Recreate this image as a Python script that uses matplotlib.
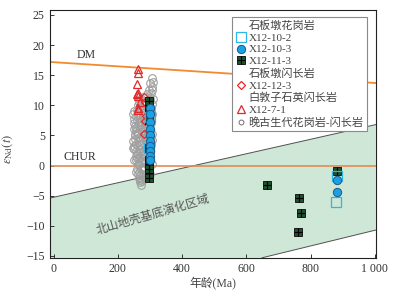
import matplotlib
matplotlib.use("Agg")
import matplotlib.pyplot as plt
from matplotlib.lines import Line2D

plt.rcParams['font.family'] = ['Liberation Serif', 'Noto Sans CJK SC']
plt.rcParams['mathtext.fontset'] = 'stix'
plt.rcParams['axes.unicode_minus'] = True

# ---------------- data ----------------
xticks = [0, 200, 400, 600, 800, 1000]
xticklabels = ['0', '200', '400', '600', '800', '1 000']
yticks = [-15, -10, -5, 0, 5, 10, 15, 20, 25]

# reference lines (Ma, eps)
dm_age = [-12, 1003]
dm_eps = [17.2, 13.7]
chur_eps = 0.0
# Beishan basement evolution region boundaries
zone_upper_age = [-12, 1003]
zone_upper_eps = [-5.4, 6.8]
zone_lower_age = [649, 1003]
zone_lower_eps = [-15.3, -10.7]

# X12-10-2 (open cyan squares)
s1_age = [300, 298, 881, 879]
s1_eps = [8.0, 3.0, -1.7, -6.1]
# X12-10-3 (blue circles)
s2_age = [299, 299, 299, 299, 299, 299, 299, 299, 299, 299, 882, 882]
s2_eps = [9.6, 8.5, 7.2, 6.0, 5.0, 4.0, 3.2, 2.5, 1.6, 0.9, -2.4, -4.4]
# X12-11-3 (dark green gridded squares)
s3_age = [296, 296, 296, 296, 296, 296, 296, 296, 296, 296, 664, 764, 770, 761, 881]
s3_eps = [10.7, 10.0, 9.2, 7.6, 3.0, 0.9, 0.2, -0.6, -1.3, -2.0, -3.2, -5.3, -7.9, -11.1, -0.9]
# X12-12-3 (red open diamonds)
s4_age = [281, 284, 288, 286, 281]
s4_eps = [11.3, 10.6, 8.3, 7.4, 5.2]
# X12-7-1 (red open triangles)
s5_age = [262, 262, 260, 263, 260, 264, 262, 262, 270]
s5_eps = [16.0, 15.3, 13.6, 12.1, 11.8, 11.5, 9.6, 9.2, 10.5]
# Late Paleozoic granite-diorite (gray open circles)
g_age = [305, 300, 308, 296, 303, 290,
         270, 283, 295, 305, 262, 278, 300,
         265, 272, 280, 288, 298, 306, 258, 268,
         260, 266, 272, 277, 284, 292, 303, 256, 270,
         258, 262, 268, 274, 280, 290, 300, 306, 255, 265,
         257, 263, 270, 276, 282, 290, 300, 304, 260, 268,
         258, 265, 272, 279, 286, 300, 306, 262, 270,
         260, 266, 270, 275, 268, 272, 280, 300, 265, 277,
         250, 252, 254, 286, 293, 248, 251, 284, 294, 256,
         246, 249, 253, 259, 264, 269, 274, 279, 285, 291,
         247, 251, 256, 261, 267, 273, 278, 283, 289, 295,
         249, 254, 259, 264, 270, 276, 281, 287, 292, 302,
         252, 257, 262, 267, 273, 279, 284, 289, 295, 301,
         263, 268, 274, 281, 307, 309, 304, 310, 302, 307]
g_eps = [14.5, 13.7, 13.0, 12.6, 12.0, 11.8,
         11.0, 10.6, 10.8, 10.2, 10.0, 11.3, 11.1,
         9.6, 9.0, 8.7, 9.3, 9.8, 8.5, 8.2, 8.0,
         7.6, 7.2, 6.8, 7.9, 7.0, 6.5, 7.4, 6.3, 6.1,
         5.7, 5.2, 4.8, 5.5, 4.5, 5.0, 5.8, 4.2, 4.4, 4.0,
         3.6, 3.2, 2.7, 3.8, 2.4, 3.1, 2.2, 3.5, 2.0, 2.3,
         1.6, 1.2, 0.7, 1.8, 0.4, 1.0, 0.2, 0.3, 1.5,
         -0.5, -1.0, -1.6, -2.2, -2.8, -3.2, -0.8, -1.4, -2.0, -0.3,
         9.0, 7.0, 5.0, 6.0, 8.0, 3.0, 1.0, 2.0, 4.5, -1.0,
         8.6, 7.8, 6.6, 5.4, 4.6, 3.4, 2.0, 0.8, 1.4, 2.6,
         4.0, 3.2, 2.4, 1.2, 0.2, -0.6, -1.8, -0.2, 0.6, 5.6,
         6.0, 5.0, 9.2, 8.4, 7.4, 6.2, 5.8, 4.2, 3.8, 9.0,
         2.8, 1.0, 6.8, 10.6, 9.6, 8.2, 6.4, 10.0, 7.6, 4.8,
         -1.4, -2.4, -2.6, -2.0, 12.5, 11.0, 9.5, 13.8, 7.0, 5.2]

# ---------------- figure ----------------
fig = plt.figure(figsize=(4.04, 2.97), dpi=100)
ax = fig.add_axes([0.123, 0.132, 0.807, 0.834])
xlim = (-12, 1003)
ylim = (-15.3, 25.8)

zone_x = zone_upper_age + zone_lower_age[::-1] + [xlim[0]]
zone_y = zone_upper_eps + zone_lower_eps[::-1] + [ylim[0]]
ax.fill(zone_x, zone_y, color='#cfe7d6', lw=0, zorder=0)
ax.plot(zone_upper_age, zone_upper_eps, color='#505050', lw=0.7, zorder=1)
ax.plot(zone_lower_age, zone_lower_eps, color='#505050', lw=0.7, zorder=1)

ax.plot(dm_age, dm_eps, color='#f28a2e', lw=1.3, zorder=2)
ax.axhline(chur_eps, color='#e08c55', lw=1.2, zorder=2)

ax.text(103, 18.3, 'DM', fontsize=8.5, color='#333333', ha='center', va='center')
ax.text(81, 1.5, 'CHUR', fontsize=8.5, color='#333333', ha='center', va='center')
ax.text(311, -8.1, '北山地壳基底演化区域', fontsize=8.5, color='#555555',
        rotation=16, ha='center', va='center', rotation_mode='anchor')

gray, = ax.plot(g_age, g_eps, ls='none', marker='o', ms=5.5, mfc='none',
                mec='#a0a0a0', mew=0.8, zorder=3)
tri, = ax.plot(s5_age, s5_eps, ls='none', marker='^', ms=5.5, mfc='none',
               mec='#e02a2a', mew=0.9, zorder=4)
dia, = ax.plot(s4_age, s4_eps, ls='none', marker='D', ms=4.5, mfc='none',
               mec='#e02a2a', mew=0.9, zorder=4)
sq3, = ax.plot(s3_age, s3_eps, ls='none', marker='s', ms=6, mfc='#1d5230',
               mec='#1a1a1a', mew=0.7, zorder=5)
pl3, = ax.plot(s3_age, s3_eps, ls='none', marker='+', ms=6, mec='#000000',
               mew=0.8, zorder=6)
cir, = ax.plot(s2_age, s2_eps, ls='none', marker='o', ms=6, mfc='#1ba0e2',
               mec='#1b5b8a', mew=0.7, zorder=7)
sq1, = ax.plot(s1_age, s1_eps, ls='none', marker='s', ms=6.5, mfc='none',
               mec='#2ab8ea', mew=0.9, zorder=6)

ax.set_xlim(xlim)
ax.set_ylim(ylim)
ax.set_xticks(xticks)
ax.set_xticklabels(xticklabels)
ax.set_yticks(yticks)
ax.tick_params(direction='in', labelsize=8.5, length=3, width=0.7,
               colors='#333333', labelcolor='#333333')
for sp in ax.spines.values():
    sp.set_linewidth(0.8)
    sp.set_color('#222222')

ax.set_xlabel('年龄(Ma)', fontsize=8.5, color='#444444', labelpad=2)
ax.set_ylabel(r'$\varepsilon_{\rm Nd}(t)$', fontsize=9, color='#444444', labelpad=6)
ax.yaxis.set_label_coords(-0.105, 0.44)

blank = Line2D([], [], ls='none', marker=None)
small_gray = Line2D([], [], ls='none', marker='o', ms=3.5, mfc='none',
                    mec='#707070', mew=0.7)
handles = [blank, sq1, cir, (sq3, pl3), blank, dia, blank, tri, small_gray]
labels = ['石板墩花岗岩', 'X12-10-2', 'X12-10-3', 'X12-11-3', '石板墩闪长岩',
          'X12-12-3', '白敦子石英闪长岩', 'X12-7-1', '晚古生代花岗岩-闪长岩']
leg = ax.legend(handles, labels, loc='upper right', bbox_to_anchor=(0.973, 0.972),
                borderaxespad=0, fontsize=8, labelspacing=0.18, handlelength=0.9,
                handletextpad=0.25, borderpad=0.3, fancybox=False, framealpha=1,
                edgecolor='#8a8a8a')
leg.get_frame().set_linewidth(0.8)
for t in leg.get_texts():
    t.set_color('#444444')

fig.savefig('out.png', dpi=100)
